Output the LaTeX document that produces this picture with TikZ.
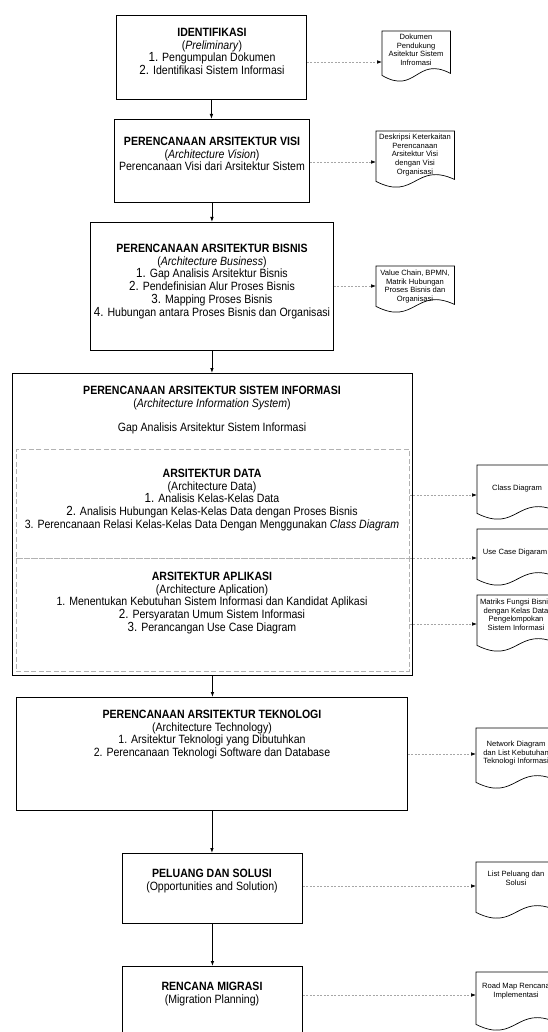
\documentclass[tikz,border=0pt]{standalone}
\usepackage{fontspec}
\setmainfont{Liberation Sans}[FakeStretch=0.88]
\newfontfamily\docfont{Liberation Sans}
\usetikzlibrary{arrows.meta}
\tikzset{
  stage/.style={draw=black, line width=0.9pt, fill=white, inner sep=0pt, anchor=north west},
  stagetext/.style={align=center, inner sep=0pt, anchor=north, font=\fontsize{12}{12.7}\selectfont},
  sect/.style={draw=gray!60, line width=0.7pt, dash pattern=on 5pt off 2.5pt, inner sep=0pt, anchor=north west},
  docbox/.style={inner sep=0pt, anchor=north west},
  docline/.style={draw=black, line width=0.7pt, fill=white},
  doctext/.style={align=center, inner sep=0pt, anchor=north, font=\docfont\fontsize{7.6}{8.6}\selectfont},
  flow/.style={draw=black, line width=0.9pt, -{Latex[length=5pt,width=3.6pt]}},
  dflow/.style={draw=gray!70, line width=0.6pt, dash pattern=on 2pt off 1.5pt, -{Latex[length=5pt,width=3.6pt,color=black]}},
}
\newcommand\nmb[1]{{\fontsize{13.2}{12.7}\selectfont #1}}
\newcommand\docshape[5]{%
  \node[docbox, minimum width=#4pt, minimum height=#5pt] (#1) at (#2,#3) {};
  \path[docline] (#1.south west) -- (#1.north west) -- (#1.north east) -- ([yshift=2pt]#1.south east)
     .. controls ([xshift=-0.5*#4pt, yshift=20pt]#1.south east) and ([xshift=0.5*#4pt, yshift=-20pt]#1.south west) .. (#1.south west) -- cycle;
}
\begin{document}
\begin{tikzpicture}[x=1pt, y=-1pt]
\clip (0,0) rectangle (548,1032);
\fill[white] (0,0) rectangle (548,1032);

% main stage boxes
\node[stage, minimum width=190pt, minimum height=84pt] (b1) at (116,15) {};
\node[stage, minimum width=195pt, minimum height=83pt] (b2) at (114,119) {};
\node[stage, minimum width=243pt, minimum height=128pt] (b3) at (90,222) {};
\node[stage, minimum width=400pt, minimum height=302pt] (b4) at (12,373) {};
\node[sect, minimum width=393pt, minimum height=109pt] (sdata) at (16,449) {};
\node[sect, minimum width=393pt, minimum height=113pt] (sapl) at (16,558) {};
\node[stage, minimum width=391pt, minimum height=113pt] (b5) at (16,697) {};
\node[stage, minimum width=180pt, minimum height=70pt] (b6) at (122,853) {};
\node[stage, minimum width=180pt, minimum height=90pt] (b7) at (122,966) {};

% texts
\node[stagetext] (t1) at (212,28) {\textbf{IDENTIFIKASI}\\(\textit{Preliminary})\\\nmb{1.} Pengumpulan Dokumen\\\nmb{2.} Identifikasi Sistem Informasi};
\node[stagetext] (t2) at (212,137) {\textbf{PERENCANAAN ARSITEKTUR VISI}\\(\textit{Architecture Vision})\\Perencanaan Visi dari Arsitektur Sistem};
\node[stagetext] (t3) at (212,244) {\textbf{PERENCANAAN ARSITEKTUR BISNIS}\\(\textit{Architecture Business})\\\nmb{1.} Gap Analisis Arsitektur Bisnis\\\nmb{2.} Pendefinisian Alur Proses Bisnis\\\nmb{3.} Mapping Proses Bisnis\\\nmb{4.} Hubungan antara Proses Bisnis dan Organisasi};
\node[stagetext] (t4) at (212,386) {\textbf{PERENCANAAN ARSITEKTUR SISTEM INFORMASI}\\(\textit{Architecture Information System})};
\node[stagetext] (t4gap) at (212,423) {Gap Analisis Arsitektur Sistem Informasi};
\node[stagetext] (tdata) at (212,469) {\textbf{ARSITEKTUR DATA}\\(Architecture Data)\\\nmb{1.} Analisis Kelas-Kelas Data\\\nmb{2.} Analisis Hubungan Kelas-Kelas Data dengan Proses Bisnis\\3. Perencanaan Relasi Kelas-Kelas Data Dengan Menggunakan \textit{Class Diagram}};
\node[stagetext] (tapl) at (212,572) {\textbf{ARSITEKTUR APLIKASI}\\(Architecture Aplication)\\1. Menentukan Kebutuhan Sistem Informasi dan Kandidat Aplikasi\\\nmb{2.} Persyaratan Umum Sistem Informasi\\\nmb{3.} Perancangan Use Case Diagram};
\node[stagetext] (t5) at (212,710) {\textbf{PERENCANAAN ARSITEKTUR TEKNOLOGI}\\(Architecture Technology)\\1. Arsitektur Teknologi yang Dibutuhkan\\2. Perencanaan Teknologi Software dan Database};
\node[stagetext] (t6) at (212,869) {\textbf{PELUANG DAN SOLUSI}\\(Opportunities and Solution)};
\node[stagetext] (t7) at (212,982) {\textbf{RENCANA MIGRASI}\\(Migration Planning)};

% documents
\docshape{d1}{382}{31}{68}{44}
\docshape{d2}{376}{131}{78}{50}
\docshape{d3}{376}{266}{78}{40}
\docshape{dcd}{477}{465}{80}{48}
\docshape{duc}{477}{529}{80}{50}
\docshape{dmf}{477}{595}{80}{50}
\docshape{dnd}{476}{728}{80}{54}
\docshape{dlp}{476}{862}{80}{50}
\docshape{drm}{476}{972}{80}{52}

\node[doctext] (d1t) at (416,34) {Dokumen\\Pendukung\\Asitektur Sistem\\Infromasi};
\node[doctext] (d2t) at (415,134) {Deskripsi Keterkaitan\\Perencanaan\\Arsitektur Visi\\dengan Visi\\Organisasi};
\node[doctext] (d3t) at (415,270) {Value Chain, BPMN,\\Matrik Hubungan\\Proses Bisnis dan\\Organisasi};
\node[doctext] (dcdt) at (517,485) {Class Diagram};
\node[doctext] (duct) at (515,549) {Use Case Digaram};
\node[doctext] (dmft) at (516,599) {Matriks Fungsi Bisnis\\dengan Kelas Data\\Pengelompokan\\Sistem Informasi};
\node[doctext] (dndt) at (516,741) {Network Diagram\\dan List Kebutuhan\\Teknologi Informasi};
\node[doctext] (dlpt) at (516,871) {List Peluang dan\\Solusi};
\node[doctext] (drmt) at (516,983) {Road Map Rencana\\Implementasi};

% main flow
\draw[flow] (b1.south) -- (b1.south |- b2.north);
\draw[flow] (b2.south) -- (b2.south |- b3.north);
\draw[flow] (b3.south) -- (b3.south |- b4.north);
\draw[flow] (b4.south) -- (b4.south |- b5.north);
\draw[flow] (b5.south) -- (b5.south |- b6.north);
\draw[flow] (b6.south) -- (b6.south |- b7.north);

% dashed outputs
\coordinate (i1) at (382,62);
\coordinate (i2) at (376,162);
\coordinate (i3) at (376,286);
\coordinate (icd) at (477,495);
\coordinate (iuc) at (477,558);
\coordinate (imf) at (477,624);
\coordinate (ind) at (476,754);
\coordinate (ilp) at (476,886);
\coordinate (irm) at (476,995);
\draw[dflow] (b1.east |- i1) -- (i1);
\draw[dflow] (b2.east |- i2) -- (i2);
\draw[dflow] (b3.east |- i3) -- (i3);
\draw[dflow] (sdata.east |- icd) -- (icd);
\draw[dflow] (sapl.north east) -- (iuc);
\draw[dflow] (sapl.east |- imf) -- (imf);
\draw[dflow] (b5.east |- ind) -- (ind);
\draw[dflow] (b6.east |- ilp) -- (ilp);
\draw[dflow] (b7.east |- irm) -- (irm);
\end{tikzpicture}
\end{document}
